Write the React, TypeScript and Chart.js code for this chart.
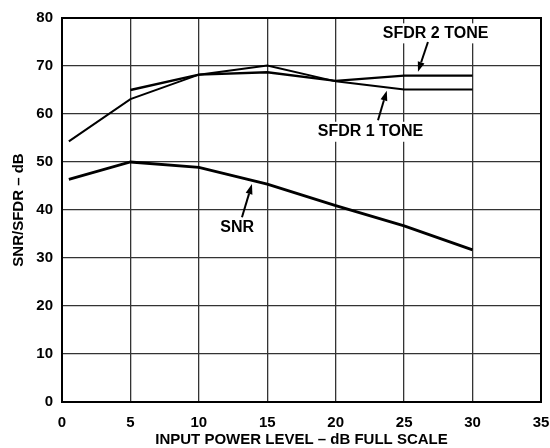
import React, { useEffect, useRef } from "react";
import { Chart, registerables } from "chart.js";

Chart.register(...registerables);

// ---- data ----
const sfdr1X = [0.5, 5, 10, 15, 20, 25, 30];
const sfdr1Y = [54.3, 63.1, 68.2, 70.1, 66.8, 65.1, 65.1];
const sfdr2X = [5, 10, 15, 20, 25, 30];
const sfdr2Y = [65.0, 68.2, 68.7, 66.9, 68.0, 68.0];
const snrX = [0.5, 5, 10, 15, 20, 25, 30];
const snrY = [46.4, 50.0, 48.9, 45.4, 40.9, 36.7, 31.7];

const xTicks = [0, 5, 10, 15, 20, 25, 30, 35];
const yTicks = [0, 10, 20, 30, 40, 50, 60, 70, 80];

const xTitle = "INPUT POWER LEVEL – dB FULL SCALE";
const yTitle = "SNR/SFDR – dB";

// annotation labels (data coordinates) and arrows (tail -> head)
const labelTexts = ["SFDR 2 TONE", "SFDR 1 TONE", "SNR"];
const labelX = [27.3, 22.54, 12.8];
const labelY = [76.8, 56.3, 36.4];
const arrowTailX = [26.74, 23.09, 13.15];
const arrowTailY = [75.0, 58.7, 38.5];
const arrowHeadX = [26.01, 23.73, 13.88];
const arrowHeadY = [68.8, 64.85, 45.4];

const FONT = "'Liberation Sans', Arial, Helvetica, sans-serif";

const pts = (xs: number[], ys: number[]) => xs.map((x, i) => ({ x, y: ys[i] }));

const annotPlugin = {
  id: "annot",
  beforeDatasetsDraw(chart: any) {
    const { ctx, chartArea, scales } = chart;
    const xs = scales.x;
    const ys = scales.y;
    ctx.save();
    // white knockouts behind the labels (hide grid lines)
    ctx.font = `bold 16px ${FONT}`;
    ctx.fillStyle = "#fff";
    labelTexts.forEach((t, i) => {
      const w = ctx.measureText(t).width;
      const cx = xs.getPixelForValue(labelX[i]);
      const cy = ys.getPixelForValue(labelY[i]);
      ctx.fillRect(cx - w / 2 - 3, cy - 10, w + 6, 20);
    });
    ctx.strokeStyle = "#000";
    ctx.lineWidth = 2;
    ctx.strokeRect(chartArea.left, chartArea.top, chartArea.right - chartArea.left, chartArea.bottom - chartArea.top);
    ctx.restore();
  },
  afterDatasetsDraw(chart: any) {
    const { ctx, scales } = chart;
    const xs = scales.x;
    const ys = scales.y;
    ctx.save();
    ctx.fillStyle = "#000";
    ctx.font = `bold 16px ${FONT}`;
    ctx.textAlign = "center";
    ctx.textBaseline = "middle";
    labelTexts.forEach((t, i) => {
      ctx.fillText(t, xs.getPixelForValue(labelX[i]), ys.getPixelForValue(labelY[i]));
    });
    ctx.strokeStyle = "#000";
    ctx.lineWidth = 2;
    for (let i = 0; i < arrowTailX.length; i++) {
      const x1 = xs.getPixelForValue(arrowTailX[i]);
      const y1 = ys.getPixelForValue(arrowTailY[i]);
      const x2 = xs.getPixelForValue(arrowHeadX[i]);
      const y2 = ys.getPixelForValue(arrowHeadY[i]);
      const ang = Math.atan2(y2 - y1, x2 - x1);
      const hl = 10;
      const hw = 3.5;
      const bx = x2 - hl * Math.cos(ang);
      const by = y2 - hl * Math.sin(ang);
      ctx.beginPath();
      ctx.moveTo(x1, y1);
      ctx.lineTo(bx, by);
      ctx.stroke();
      ctx.beginPath();
      ctx.moveTo(x2, y2);
      ctx.lineTo(bx + hw * Math.sin(ang), by - hw * Math.cos(ang));
      ctx.lineTo(bx - hw * Math.sin(ang), by + hw * Math.cos(ang));
      ctx.closePath();
      ctx.fill();
    }
    ctx.restore();
  },
};

export default function App() {
  const ref = useRef<HTMLCanvasElement | null>(null);
  useEffect(() => {
    if (!ref.current) return;
    const chart = new Chart(ref.current, {
      type: "line",
      data: {
        datasets: [
          { label: "SFDR 1 TONE", data: pts(sfdr1X, sfdr1Y), borderColor: "#000", borderWidth: 2, pointRadius: 0, tension: 0, fill: false },
          { label: "SFDR 2 TONE", data: pts(sfdr2X, sfdr2Y), borderColor: "#000", borderWidth: 2.4, pointRadius: 0, tension: 0, fill: false },
          { label: "SNR", data: pts(snrX, snrY), borderColor: "#000", borderWidth: 2.8, pointRadius: 0, tension: 0, fill: false },
        ],
      },
      options: {
        animation: false,
        responsive: false,
        devicePixelRatio: 1,
        layout: { padding: { left: 0, top: 18, right: 9, bottom: 0 } },
        plugins: { legend: { display: false }, tooltip: { enabled: false } },
        scales: {
          x: {
            type: "linear",
            min: 0,
            max: 35,
            afterBuildTicks: (s: any) => { s.ticks = xTicks.map((v) => ({ value: v })); },
            afterFit: (s: any) => { s.height = 46; s.paddingLeft = 0; s.paddingRight = 0; },
            ticks: { color: "#000", font: { family: FONT, size: 15, weight: "bold" }, padding: 12, maxRotation: 0, autoSkip: false },
            grid: { color: "#333", lineWidth: 1.3, drawTicks: false },
            border: { display: false },
            title: { display: true, text: xTitle, color: "#000", font: { family: FONT, size: 15, weight: "bold" }, padding: { top: 0, bottom: -1 } },
          },
          y: {
            type: "linear",
            min: 0,
            max: 80,
            afterBuildTicks: (s: any) => { s.ticks = yTicks.map((v) => ({ value: v })); },
            afterFit: (s: any) => { s.width = 62; s.paddingTop = 0; s.paddingBottom = 0; },
            ticks: { color: "#000", font: { family: FONT, size: 15, weight: "bold" }, padding: 9, autoSkip: false },
            grid: { color: "#333", lineWidth: 1.3, drawTicks: false },
            border: { display: false },
            title: { display: true, text: yTitle, color: "#000", font: { family: FONT, size: 15, weight: "bold" }, padding: { top: 10, bottom: 0 } },
          },
        },
      },
      plugins: [annotPlugin],
    } as any);
    return () => chart.destroy();
  }, []);
  return (
    <div style={{ position: "absolute", left: 0, top: 0, width: 550, height: 448, background: "#fff" }}>
      <canvas ref={ref} width={550} height={448} style={{ display: "block", width: 550, height: 448 }} />
    </div>
  );
}
